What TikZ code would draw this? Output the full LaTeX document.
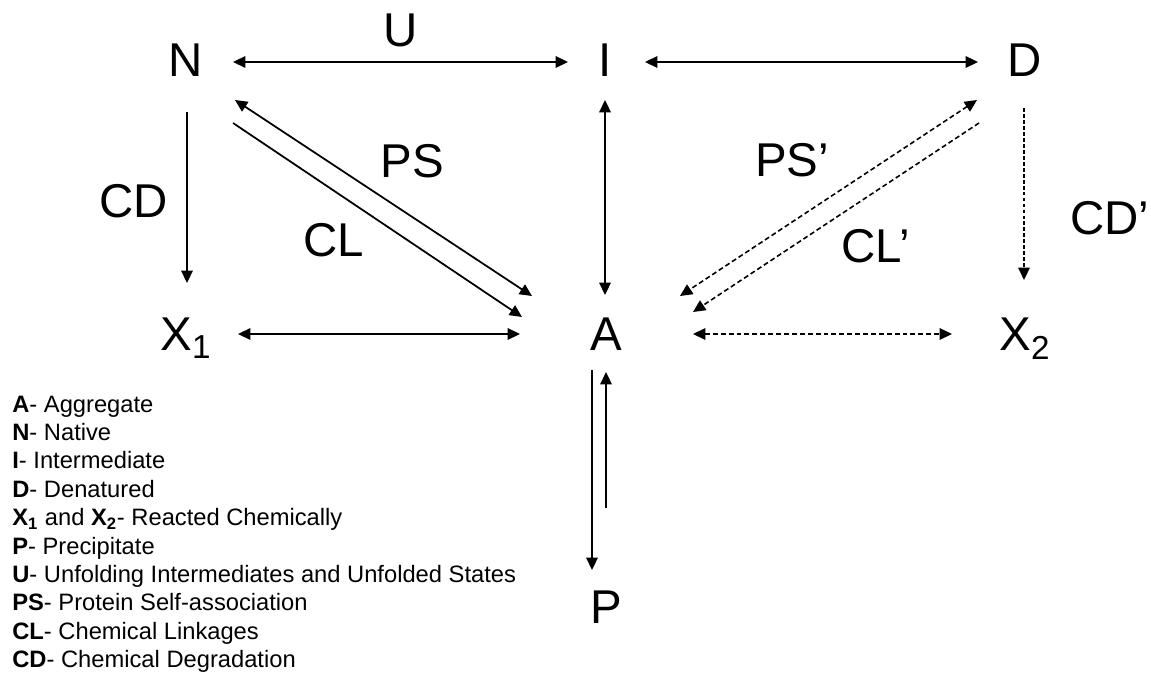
\documentclass[tikz,border=0pt]{standalone}
\usepackage{fontspec}
\setmainfont{Liberation Sans}
\usetikzlibrary{arrows.meta}

\tikzset{
  state/.style={font=\fontsize{27}{32}\selectfont, anchor=base, inner sep=0pt},
  legend/.style={font=\fontsize{13.5}{16}\selectfont, anchor=base west, inner sep=0pt},
  link/.style={line width=1pt},
  dlink/.style={line width=0.9pt, dash pattern=on 2.8pt off 1.7pt},
  flink/.style={line width=0.9pt, dash pattern=on 2.2pt off 1.2pt}
}

\begin{document}
\begin{tikzpicture}[x=0.02cm, y=-0.02cm, >={Triangle[length=7pt,width=6.5pt]}]
\useasboundingbox (0,0) rectangle (1151,678);
% states
\node[state] (N) at (186,77) {N};
\node[state] (I) at (605,77) {I};
\node[state] (D) at (1025,77) {D};
\node[state] (X1) at (186,351) {X\textsubscript{1}};
\node[state] (A) at (606,351) {A};
\node[state] (X2) at (1025,351) {X\textsubscript{2}};
\node[state] (P) at (606,623) {P};
% labels
\node[state] (U) at (401,47) {U};
\node[state] (PS) at (412,178) {PS};
\node[state] (CL) at (334,257) {CL};
\node[state] (CD) at (134,218) {CD};
\node[state] (PSd) at (792,177) {PS’};
\node[state] (CLd) at (876,263) {CL’};
\node[state] (CDd) at (1110,235) {CD’};
% solid reactions
\draw[link,<->] ([shift={(47,-15)}]N.base) -- ([shift={(-37,-15)}]I.base);
\draw[link,<->] ([shift={(40,-15)}]I.base) -- ([shift={(-47,-15)}]D.base);
\draw[link,->] ([shift={(1,35)}]N.base) -- ([shift={(1,-68)}]X1.base);
\draw[link,<->] ([shift={(0,23)}]I.base) -- ([shift={(-1,-56)}]A.base);
\draw[link,<->] ([shift={(52,-17)}]X1.base) -- ([shift={(-86,-17)}]A.base);
\draw[link,<->] ([shift={(49,23)}]N.base) -- ([shift={(-74,-55)}]A.base);
\draw[link,->] ([shift={(47,46)}]N.base) -- ([shift={(-84,-34)}]A.base);
\draw[link,->] ([shift={(-14,19)}]A.base) -- ([shift={(-14,-53)}]P.base);
\draw[link,->] ([shift={(0,-115)}]P.base) -- ([shift={(0,21)}]A.base);
% dashed reactions
\draw[dlink,<->] ([shift={(87,-17)}]A.base) -- ([shift={(-73,-17)}]X2.base);
\draw[flink,->] ([shift={(-1,31)}]D.base) -- ([shift={(-1,-71)}]X2.base);
\draw[dlink,<->] ([shift={(-48,23)}]D.base) -- ([shift={(74,-55)}]A.base);
\draw[dlink,->] ([shift={(-46,46)}]D.base) -- ([shift={(87,-39)}]A.base);
% legend
\foreach \txt [count=\k] in {{\textbf{A}- Aggregate},{\textbf{N}- Native},
  {\textbf{I}- Intermediate},{\textbf{D}- Denatured},
  {\textbf{X\textsubscript{1}} and \textbf{X\textsubscript{2}}- Reacted Chemically},
  {\textbf{P}- Precipitate},{\textbf{U}- Unfolding Intermediates and Unfolded States},
  {\textbf{PS}- Protein Self-association},{\textbf{CL}- Chemical Linkages},
  {\textbf{CD}- Chemical Degradation}}
  \node[legend] (leg\k) at (12,{412+28.4*(\k-1)}) {\txt};
\end{tikzpicture}
\end{document}
